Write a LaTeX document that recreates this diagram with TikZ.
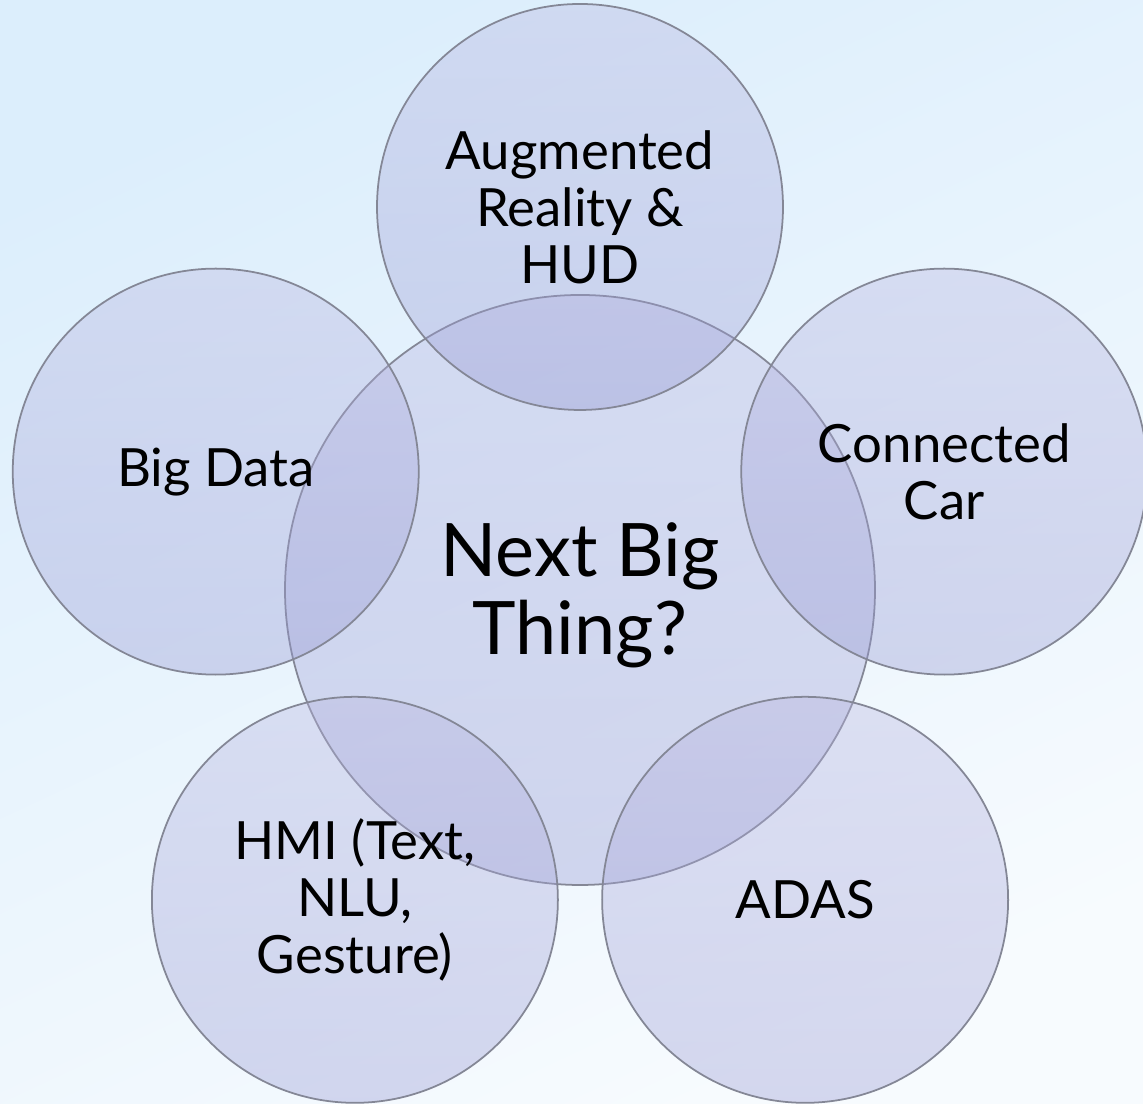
\documentclass[tikz,border=0pt]{standalone}
\usepackage{fontspec}
\setmainfont{Lato}
\usetikzlibrary{fadings}

\definecolor{skyblue}{RGB}{220,238,252}
\definecolor{paleblue}{RGB}{247,251,254}
\definecolor{bandblue}{RGB}{206,229,249}
\definecolor{bubbletop}{RGB}{184,181,224}
\definecolor{bubblebot}{RGB}{148,151,210}
\definecolor{rimgray}{RGB}{132,135,150}

\tikzfading[name=bandfade, top color=transparent!100, middle color=transparent!0, bottom color=transparent!100]

\tikzset{
  bubble/.style={circle, draw=rimgray, line width=0.5pt,
    top color=bubbletop, bottom color=bubblebot, fill opacity=0.36, text opacity=1,
    align=center, inner sep=0pt, minimum size=4.06cm,
    font=\fontsize{15}{16.2}\selectfont},
  hub/.style={bubble, minimum size=5.9cm, font=\fontsize{21}{22.2}\selectfont}
}

\begin{document}
\begin{tikzpicture}
\useasboundingbox (0,0) rectangle (11.43,11.04);
% sky background with soft streaks low down
\shade[top color=skyblue, bottom color=paleblue, shading angle=25] (0,0) rectangle (11.43,11.04);
\fill[bandblue, path fading=bandfade] (0,1.9) rectangle (11.43,3.1);
\fill[bandblue, path fading=bandfade] (0,3.0) rectangle (11.43,3.9);

% hub and the five topics round it
\node[hub] (hub) at (5.80,5.14) {\raisebox{-0.28cm}[0pt][0pt]{\begin{tabular}{@{}c@{}}Next Big\\Thing?\end{tabular}}};
\node[bubble] (ar)   at ([shift={(90:3.83)}]hub.center)  {Augmented\\Reality \&\\HUD};
\node[bubble] (data) at ([shift={(162:3.83)}]hub.center) {Big Data};
\node[bubble] (hmi)  at ([shift={(234:3.83)}]hub.center) {HMI (Text,\\NLU,\\Gesture)};
\node[bubble] (adas) at ([shift={(306:3.83)}]hub.center) {ADAS};
\node[bubble] (car)  at ([shift={(18:3.83)}]hub.center)  {Connected\\Car};
\end{tikzpicture}
\end{document}
